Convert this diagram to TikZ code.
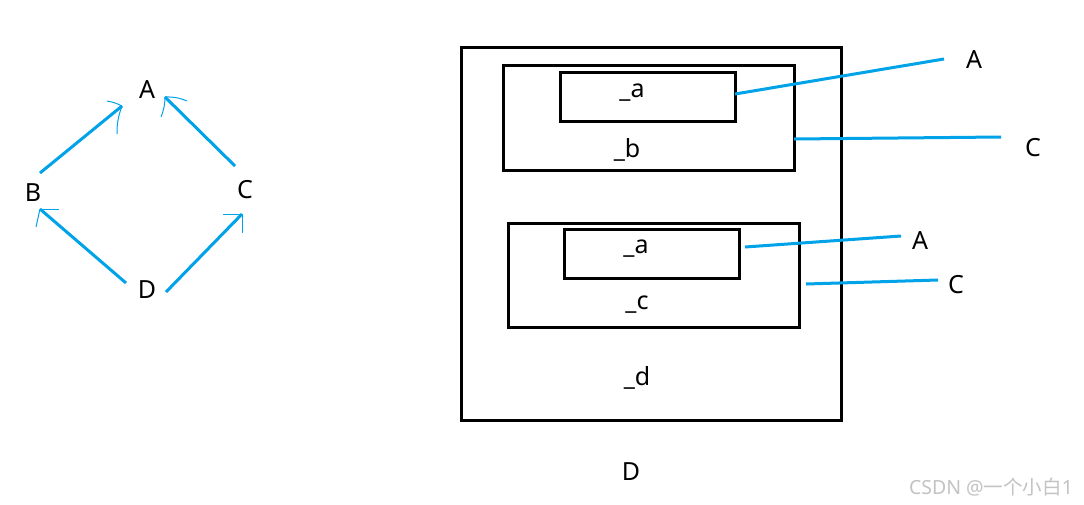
\documentclass[tikz,border=0pt]{standalone}
\usepackage{fontspec}
\setmainfont{Noto Sans}
\newfontfamily\cjkfont{Noto Sans CJK SC}
\definecolor{pblue}{RGB}{0,162,232}
\definecolor{wmgray}{RGB}{195,195,195}
\begin{document}
\begin{tikzpicture}[x=1pt,y=-1pt,
  lbl/.style={inner sep=0pt,font=\fontsize{25}{29}\selectfont},
  boxline/.style={draw=black,line width=3pt},
  conn/.style={draw=pblue,line width=3pt},
  headline/.style={draw=pblue,line width=1pt}]
\useasboundingbox (0,0) rectangle (1084,504);
\fill[white] (0,0) rectangle (1084,504);
% ---- left diamond ----
\node[lbl] (A) at (147,90) {A};
\node[lbl] (B) at (33,193) {B};
\node[lbl] (C) at (245,190) {C};
\node[lbl] (D) at (147,290) {D};
\coordinate (ba0) at (40,173); \coordinate (ba1) at (122,106);
\coordinate (ca0) at (235,166); \coordinate (ca1) at (165,97);
\coordinate (db0) at (126,283); \coordinate (db1) at (40,209);
\coordinate (dc0) at (166,292); \coordinate (dc1) at (242,214);
\draw[conn] (ba0) -- (ba1);
\draw[conn] (ca0) -- (ca1);
\draw[conn] (db0) -- (db1);
\draw[conn] (dc0) -- (dc1);
\draw[headline] (107,101) to[bend left=8] (ba1);
\draw[headline] (117,134) to[bend left=10] (ba1);
\draw[headline] (187,101) to[bend right=12] (ca1);
\draw[headline] (161,117) to[bend right=10] (ca1);
\draw[headline] (db1) -- (59,209);
\draw[headline] (db1) -- (36,227);
\draw[headline] (dc1) -- (223,214);
\draw[headline] (dc1) -- (242,233);
% ---- right nested boxes ----
\draw[boxline] (461,47) rectangle (841,420);
\node[lbl] (Dr) at (631,472) {D};
\node[lbl] (dlab) at (637,378) {\_d};
\draw[boxline] (503,65) rectangle (794,170);
\node[lbl] (blab) at (627,150) {\_b};
\draw[boxline] (560,72) rectangle (735,121);
\node[lbl] (a1lab) at (632,93) {\_a};
\draw[boxline] (508,223) rectangle (799,327);
\node[lbl] (clab) at (637,305) {\_c};
\draw[boxline] (564,229) rectangle (739,278);
\node[lbl] (a2lab) at (636,249) {\_a};
% labels on the right
\node[lbl] (RA1) at (974,60) {A};
\node[lbl] (RC1) at (1033,148) {C};
\node[lbl] (RA2) at (920,241) {A};
\node[lbl] (RC2) at (956,285) {C};
\coordinate (l1s) at (735,94); \coordinate (l1e) at (944,59);
\coordinate (l2s) at (794,139); \coordinate (l2e) at (1001,137);
\coordinate (l3s) at (745,247); \coordinate (l3e) at (901,236);
\coordinate (l4s) at (806,284); \coordinate (l4e) at (938,280);
\draw[conn] (l1s) -- (l1e);
\draw[conn] (l2s) -- (l2e);
\draw[conn] (l3s) -- (l3e);
\draw[conn] (l4s) -- (l4e);
% watermark
\node[inner sep=0pt,text=wmgray,font=\fontsize{19.5}{22}\selectfont] (wm) at (991,487) {CSDN @{\cjkfont 一个小白}1};
\end{tikzpicture}
\end{document}
